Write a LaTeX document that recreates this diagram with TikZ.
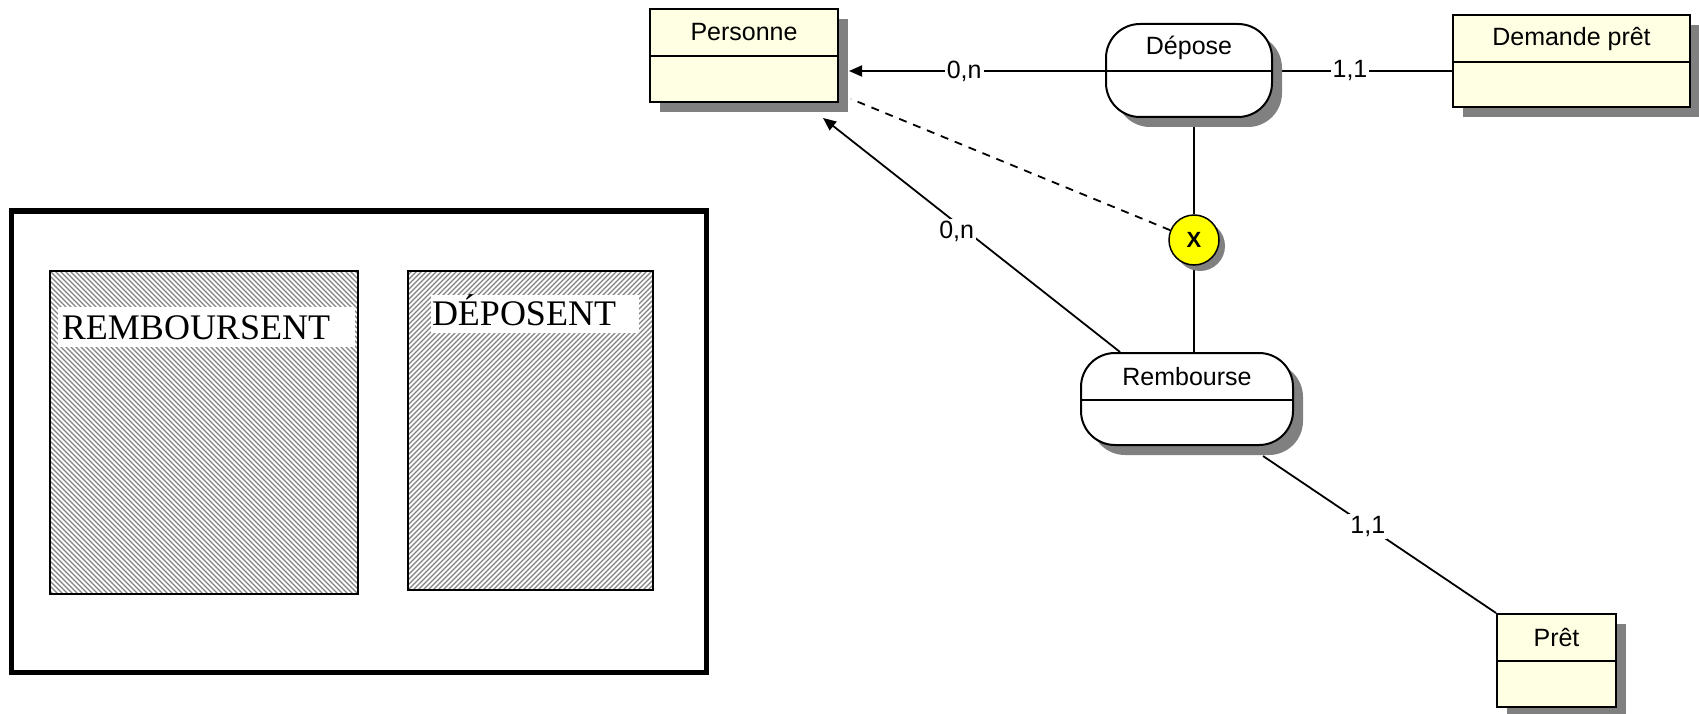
\documentclass[tikz,border=0pt]{standalone}
\usepackage{fontspec}
\setmainfont{Liberation Sans}
\newfontfamily\timesx{Liberation Serif}
\usetikzlibrary{arrows.meta,shadows,backgrounds}
\definecolor{cream}{RGB}{255,255,228}
\definecolor{shade}{RGB}{128,128,128}
\definecolor{hatchc}{RGB}{130,130,130}
\definecolor{xyellow}{RGB}{255,255,0}
\begin{document}
\begin{tikzpicture}[x=1pt,y=-1pt,
  lab/.style={font=\fontsize{25}{30}\selectfont, inner sep=1pt},
  card/.style={lab, fill=white, inner sep=2pt},
  dshadow/.style={drop shadow={shadow xshift=10pt,shadow yshift=-10pt,fill=shade,opacity=1}},
  entity/.style={draw, line width=2pt, fill=cream, dshadow, inner sep=0pt},
  assoc/.style={draw, line width=2pt, fill=white, rounded corners=34pt, dshadow, inner sep=0pt},
  xnode/.style={circle, draw, line width=1.5pt, fill=xyellow, minimum size=50pt, inner sep=0pt,
    drop shadow={shadow xshift=6pt,shadow yshift=-6pt,fill=shade,opacity=1},
    font=\fontsize{22}{26}\selectfont\bfseries},
  conn/.style={line width=1.8pt},
  tip/.style={-{Triangle[length=13pt,width=11pt]}},
  divline/.style={line width=2pt},
  bigtext/.style={font=\timesx\fontsize{36}{40}\selectfont, inner sep=0pt, anchor=base},
  hatchline/.style={hatchc, line width=1.1pt}
]
\useasboundingbox (0,0) rectangle (1699,714);

% ---------------- left figure ----------------
\draw[line width=5pt] (11,211) rectangle (706,672);
\begin{scope}
  \clip (50,271) rectangle (358,594);
  \foreach \i in {-340,-335,...,320} \draw[hatchline] (50+\i,271) -- ++(340,340);
\end{scope}
\begin{scope}
  \clip (408,271) rectangle (653,590);
  \foreach \i in {-330,-325,...,260} \draw[hatchline] (408+\i,590) -- ++(330,-330);
\end{scope}
\fill[white] (58,307) rectangle (355,347);
\fill[white] (431,295) rectangle (639,333);
\node[bigtext] (remtxt) at (196,339) {REMBOURSENT};
\node[bigtext] (deptxt) at (524,325) {DÉPOSENT};
\draw[line width=2.5pt] (50,271) rectangle (358,594);
\draw[line width=2.5pt] (408,271) rectangle (653,590);

% ---------------- right diagram ----------------
\node[entity, minimum width=188pt, minimum height=93pt] (pers) at (744,55.5) {};
\node[entity, minimum width=237pt, minimum height=92pt] (dem) at (1571.5,61) {};
\node[entity, minimum width=119pt, minimum height=93pt] (pret) at (1556.5,660.5) {};
\node[assoc, minimum width=166pt, minimum height=93pt] (dep) at (1189,70.5) {};
\node[assoc, minimum width=212pt, minimum height=92pt] (rem) at (1187,399) {};
\node[xnode] (x) at (1194,240) {X};

\foreach \n in {pers,dem,pret,dep,rem}
  \draw[divline] ([yshift=-48pt]\n.north west) -- ([yshift=-48pt]\n.north east);

\node[lab] (tpers) at ([yshift=-24pt]pers.north) {Personne};
\node[lab] (tdem) at ([yshift=-25pt]dem.north) {Demande prêt};
\node[lab] (tpret) at ([yshift=-25pt]pret.north) {Prêt};
\node[lab] (tdep) at ([yshift=-25pt]dep.north) {Dépose};
\node[lab] (trem) at ([yshift=-25pt]rem.north) {Rembourse};

\begin{pgfonlayer}{background}
  \draw[conn,tip] ([yshift=-48pt]dep.north west) -- node[card,pos=0.55] {0,n} ([xshift=10pt,yshift=-63pt]pers.north east);
  \draw[conn] ([yshift=-48pt]dep.north east) -- node[card,pos=0.43] {1,1} ([yshift=-57pt]dem.north west);
  \draw[conn] (x.north |- dep.south) -- (x.north);
  \draw[conn] (x.south) -- (x.south |- rem.north);
  \draw[conn, dash pattern=on 8pt off 7pt] (x) -- ([xshift=12pt,yshift=4pt]pers.south east);
  \draw[conn,tip] ([xshift=40pt]rem.north west) -- node[card,pos=0.55,yshift=-8pt] {0,n} ([xshift=79pt,yshift=-15pt]pers.south);
  \draw[conn] ([xshift=-31pt,yshift=-10pt]rem.south east) -- node[card,pos=0.45] {1,1} (pret.north west);
\end{pgfonlayer}
\end{tikzpicture}
\end{document}
